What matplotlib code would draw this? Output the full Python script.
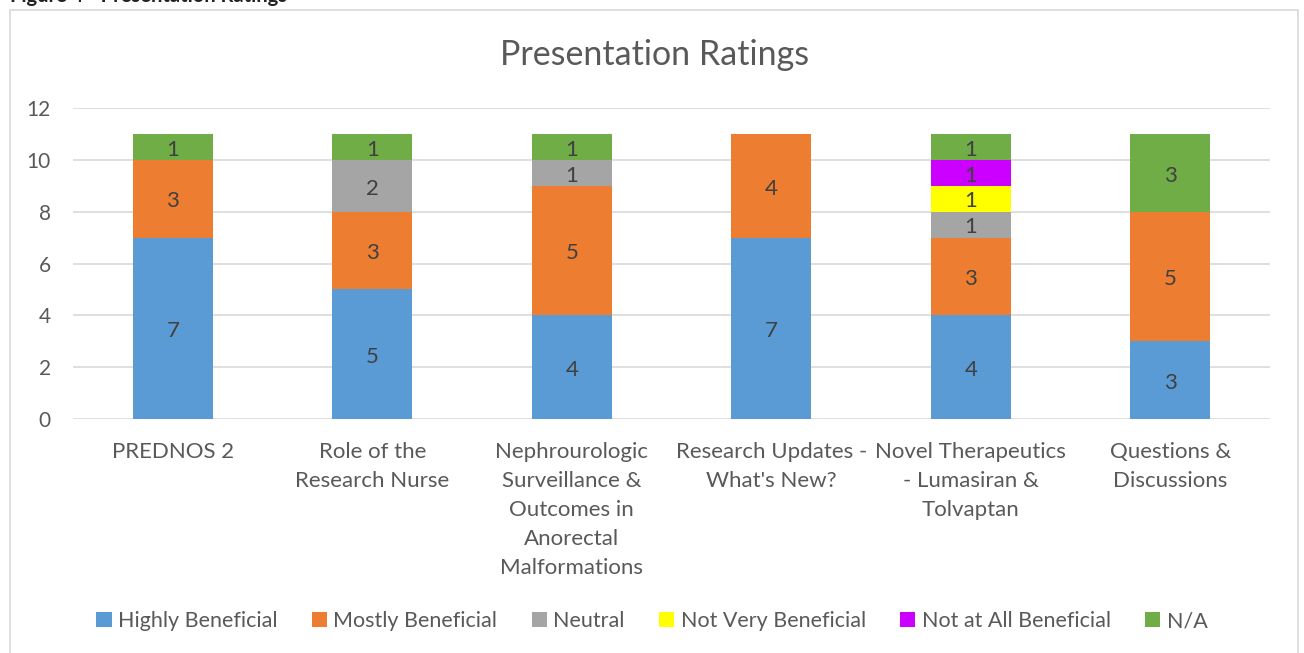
#!/usr/bin/env python3
"""Stacked bar chart of presentation ratings."""

import matplotlib
matplotlib.use("Agg")
import matplotlib.pyplot as plt
from matplotlib.patches import Rectangle

plt.rcParams["font.family"] = ["Lato", "DejaVu Sans"]

categories = [
    "PREDNOS 2",
    "Role of the\nResearch Nurse",
    "Nephrourologic\nSurveillance &\nOutcomes in\nAnorectal\nMalformations",
    "Research Updates -\nWhat's New?",
    "Novel Therapeutics\n- Lumasiran &\nTolvaptan",
    "Questions &\nDiscussions",
]
series_names = [
    "Highly Beneficial",
    "Mostly Beneficial",
    "Neutral",
    "Not Very Beneficial",
    "Not at All Beneficial",
    "N/A",
]
highly = [7, 5, 4, 7, 4, 3]
mostly = [3, 3, 5, 4, 3, 5]
neutral = [0, 2, 1, 0, 1, 0]
not_very = [0, 0, 0, 0, 1, 0]
not_at_all = [0, 0, 0, 0, 1, 0]
na = [1, 1, 1, 0, 1, 3]
series = [highly, mostly, neutral, not_very, not_at_all, na]
colors = ["#5B9BD5", "#ED7D31", "#A5A5A5", "#FFFF00", "#CC00FF", "#70AD47"]

TEXT = "#595959"

fig = plt.figure(figsize=(13.04, 6.53), dpi=100)
ax = fig.add_axes([73 / 1304, 1 - 419 / 653, 1197 / 1304, 311 / 653])

# outer chart frame, as in the report
fig.patches.append(Rectangle((10 / 1304, -0.1), 1288 / 1304, 1.1 - 10 / 653,
                             transform=fig.transFigure, fill=False,
                             edgecolor="#d9d9d9", linewidth=1.2))
fig.text(10 / 1304, 1 - 2 / 653, "Figure 4 - Presentation Ratings",
         fontsize=14.5, fontweight="bold", color="#222222", va="baseline")

x = list(range(len(categories)))
bottom = [0] * len(categories)
for name, vals, col in zip(series_names, series, colors):
    bars = ax.bar(x, vals, width=0.4, bottom=bottom, color=col, label=name, zorder=3)
    for b, v in zip(bars, vals):
        if v:
            ax.annotate(str(v), (b.get_x() + b.get_width() / 2, b.get_y() + v / 2),
                        xytext=(0, -2), textcoords="offset points",
                        ha="center", va="center", fontsize=16, color="#404040", zorder=4)
    bottom = [a + v for a, v in zip(bottom, vals)]

ax.set_xlim(-0.5, len(categories) - 0.5)
ax.set_ylim(0, 12)
ax.set_yticks(range(0, 13, 2))
ax.set_xticks(x)
ax.set_xticklabels(categories, fontsize=16, color=TEXT, linespacing=1.56, va="top")
ax.tick_params(axis="y", labelsize=15, labelcolor=TEXT, length=0, pad=16)
ax.tick_params(axis="x", length=0, pad=16.5)
ax.grid(axis="y", color="#d9d9d9", linewidth=1.2, zorder=0)
for s in ax.spines.values():
    s.set_visible(False)

fig.text(655 / 1304, 1 - 55 / 653, "Presentation Ratings", fontsize=24.5, color=TEXT,
         ha="center", va="center")

fig.legend(loc="center", bbox_to_anchor=(0.5, 1 - 621 / 653), ncol=6, frameon=False,
           fontsize=15.5, labelcolor=TEXT, handlelength=0.7, handleheight=0.7,
           handletextpad=0.3, columnspacing=1.6)

fig.savefig("out.png", dpi=100)
